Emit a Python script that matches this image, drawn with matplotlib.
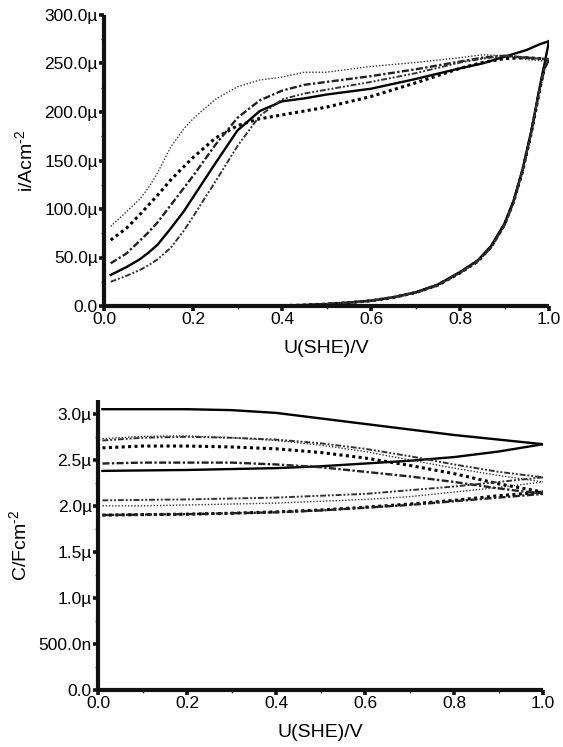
import matplotlib
matplotlib.use("Agg")
import matplotlib.pyplot as plt
from matplotlib.ticker import FixedLocator, FuncFormatter, MultipleLocator

plt.rcParams['font.family'] = ['Liberation Sans', 'DejaVu Sans']
plt.rcParams['mathtext.fontset'] = 'custom'
plt.rcParams['mathtext.rm'] = 'Liberation Sans'
plt.rcParams['mathtext.default'] = 'regular'

# ---------------- top panel data: current density (µA/cm²) ----------------
x_fwd = [0.015, 0.05, 0.08, 0.1, 0.12, 0.15, 0.18, 0.2, 0.25, 0.3, 0.35, 0.4, 0.45, 0.5, 0.6, 0.7, 0.8, 0.85, 0.9, 0.95, 0.98, 1.0]
i_solid_fwd   = [32, 40, 48, 55, 63, 80, 98, 112, 147, 181, 201, 211, 214, 218, 224, 234, 245, 250, 257, 264, 270, 273]
i_dotted_fwd  = [82, 97, 110, 122, 137, 164, 183, 193, 213, 226, 233, 236, 241, 241, 247, 251, 256, 259, 258, 254, 253, 252]
i_square_fwd  = [68, 80, 94, 104, 114, 130, 144, 153, 173, 186, 193, 197, 201, 205, 216, 230, 245, 251, 255, 256, 255, 254]
i_dashdot_fwd = [44, 54, 67, 76, 86, 104, 122, 134, 166, 194, 212, 222, 228, 231, 237, 244, 252, 256, 258, 256, 255, 254]
i_dashdd_fwd  = [25, 31, 37, 42, 48, 60, 78, 92, 128, 165, 196, 213, 219, 223, 231, 240, 251, 255, 258, 256, 255, 255]

x_rev = [1.0, 0.99, 0.98, 0.96, 0.94, 0.92, 0.90, 0.87, 0.84, 0.80, 0.75, 0.70, 0.65, 0.60, 0.55, 0.50, 0.45, 0.40, 0.35, 0.30]
i_solid_rev   = [273, 250, 228, 180, 140, 108, 85, 62, 47, 35, 22, 14, 9, 5.5, 3.5, 2.0, 1.0, 0.4, 0.1, 0.0]
i_dotted_rev  = [252, 244, 224, 177, 137, 106, 83, 60, 46, 34, 21, 13.5, 8.5, 5.2, 3.3, 1.9, 1.0, 0.4, 0.1, 0.0]
i_square_rev  = [254, 246, 225, 178, 138, 107, 84, 61, 46, 34, 21.5, 13.8, 8.8, 5.4, 3.4, 2.0, 1.0, 0.4, 0.1, 0.0]
i_dashdot_rev = [254, 245, 226, 179, 139, 107, 84, 61, 47, 35, 22, 14, 9, 5.5, 3.5, 2.0, 1.0, 0.4, 0.1, 0.0]
i_dashdd_rev  = [255, 247, 227, 178, 138, 106, 83, 60, 46, 34, 21, 13.5, 8.7, 5.3, 3.4, 1.9, 1.0, 0.4, 0.1, 0.0]

# ---------------- bottom panel data: capacitance (µF/cm²) ----------------
x_c = [0.01, 0.1, 0.2, 0.3, 0.4, 0.5, 0.6, 0.7, 0.8, 0.9, 1.0]
c_solid_up    = [3.05, 3.05, 3.05, 3.04, 3.01, 2.95, 2.89, 2.83, 2.77, 2.72, 2.67]
c_solid_lo    = [2.38, 2.385, 2.39, 2.40, 2.41, 2.43, 2.46, 2.49, 2.53, 2.59, 2.67]
c_dotted_up   = [2.73, 2.755, 2.76, 2.74, 2.71, 2.66, 2.59, 2.50, 2.41, 2.33, 2.26]
c_dotted_lo   = [2.00, 2.00, 2.01, 2.02, 2.03, 2.05, 2.07, 2.10, 2.15, 2.20, 2.26]
c_square_up   = [2.63, 2.65, 2.65, 2.64, 2.62, 2.58, 2.52, 2.44, 2.35, 2.24, 2.15]
c_square_lo   = [1.90, 1.905, 1.91, 1.92, 1.935, 1.955, 1.985, 2.02, 2.06, 2.11, 2.15]
c_dashdot_up  = [2.46, 2.47, 2.47, 2.47, 2.45, 2.42, 2.37, 2.32, 2.26, 2.19, 2.13]
c_dashdot_lo  = [1.90, 1.905, 1.91, 1.92, 1.93, 1.95, 1.98, 2.01, 2.05, 2.09, 2.13]
c_dashdd_up   = [2.71, 2.74, 2.75, 2.74, 2.72, 2.68, 2.62, 2.54, 2.45, 2.37, 2.31]
c_dashdd_lo   = [2.06, 2.065, 2.07, 2.08, 2.09, 2.11, 2.13, 2.17, 2.21, 2.26, 2.31]

top_yticks = [0, 50, 100, 150, 200, 250, 300]
bot_yticks = [0, 0.5, 1.0, 1.5, 2.0, 2.5, 3.0]
xticks = [0.0, 0.2, 0.4, 0.6, 0.8, 1.0]

styles = {
    'solid':   dict(color='black', lw=1.7, ls='-'),
    'dotted':  dict(color='#333333', lw=1.0, ls=(0, (1, 1.3))),
    'square':  dict(color='black', lw=2.2, ls=(0, (1, 1.1)), dash_capstyle='butt'),
    'dashdot': dict(color='#222222', lw=1.7, ls=(0, (3, 1, 1, 1))),
    'dashdd':  dict(color='#333333', lw=1.4, ls=(0, (3, 1, 1, 1, 1, 1))),
}

fig = plt.figure(figsize=(5.63, 7.47), dpi=100)
ax1 = fig.add_axes([104/563, 1-306/747, 445/563, 291/747])
ax2 = fig.add_axes([98/563, 1-690/747, 445/563, 290/747])

top_sets = [('solid', i_solid_fwd, i_solid_rev), ('dotted', i_dotted_fwd, i_dotted_rev),
            ('square', i_square_fwd, i_square_rev), ('dashdot', i_dashdot_fwd, i_dashdot_rev),
            ('dashdd', i_dashdd_fwd, i_dashdd_rev)]
for name, f, r in top_sets:
    ax1.plot(x_fwd, f, **styles[name])
    ax1.plot(x_rev, r, **styles[name])

bot_sets = [('solid', c_solid_up, c_solid_lo), ('dotted', c_dotted_up, c_dotted_lo),
            ('square', c_square_up, c_square_lo), ('dashdot', c_dashdot_up, c_dashdot_lo),
            ('dashdd', c_dashdd_up, c_dashdd_lo)]
for name, u, l in bot_sets:
    ax2.plot(x_c, u, **styles[name])
    ax2.plot(x_c, l, **styles[name])

def fmt_top(v, pos):
    return "0.0" if v == 0 else f"{v:.1f}\u00b5"

def fmt_bot(v, pos):
    if v == 0:
        return "0.0"
    if v < 1:
        return f"{v*1000:.1f}n"
    return f"{v:.1f}\u00b5"

for ax in (ax1, ax2):
    for s in ('top', 'right'):
        ax.spines[s].set_visible(False)
    for s in ('left', 'bottom'):
        ax.spines[s].set_linewidth(3.0)
        ax.spines[s].set_color('#111111')
        ax.spines[s].set_capstyle('butt')
    ax.set_xlim(0, 1.0)
    ax.xaxis.set_major_locator(FixedLocator(xticks))
    ax.xaxis.set_minor_locator(MultipleLocator(0.1))
    ax.xaxis.set_major_formatter(FuncFormatter(lambda v, p: f"{v:.1f}"))
    ax.tick_params(which='major', direction='out', length=3.5, width=2.6, labelsize=12.5, pad=1.0, color='#111111')
    ax.tick_params(which='minor', direction='out', length=2, width=1.0, color='#555555')
    ax.set_xlabel("U(SHE)/V", fontsize=14, labelpad=9)

ax1.set_ylim(0, 300)
ax1.yaxis.set_major_locator(FixedLocator(top_yticks))
ax1.yaxis.set_minor_locator(MultipleLocator(25))
ax1.yaxis.set_major_formatter(FuncFormatter(fmt_top))
ax1.set_ylabel("i/Acm$^{\\text{-2}}$", fontsize=14, labelpad=6)

ax2.set_ylim(0, 3.15)
ax2.yaxis.set_major_locator(FixedLocator(bot_yticks))
ax2.yaxis.set_minor_locator(MultipleLocator(0.25))
ax2.yaxis.set_major_formatter(FuncFormatter(fmt_bot))
ax2.set_ylabel("C/Fcm$^{\\text{-2}}$", fontsize=14, labelpad=6)

for ax in (ax1, ax2):
    for lab in ax.get_xticklabels() + ax.get_yticklabels():
        lab.set_clip_on(False)

fig.savefig("out.png", dpi=100)
